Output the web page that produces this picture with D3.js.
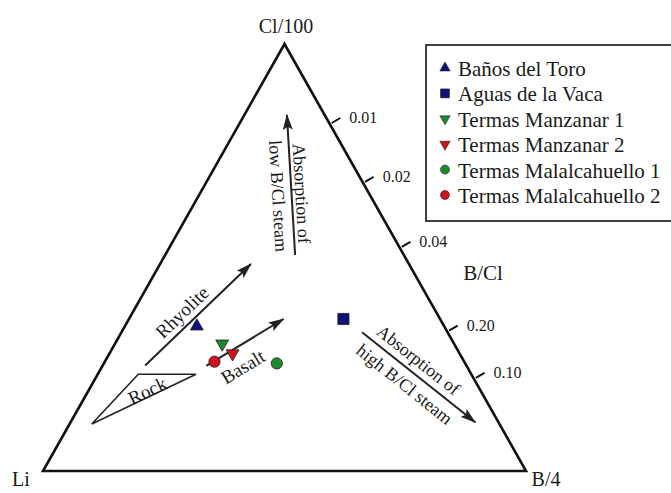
<!DOCTYPE html>
<html>
<head>
<meta charset="utf-8">
<script src="https://cdn.jsdelivr.net/npm/d3@7"></script>
<style>
  body { margin: 0; background: #fff; }
  svg { display: block; }
  text { font-family: "Liberation Serif", "Times New Roman", serif; fill: #1a1a1a; }
</style>
</head>
<body>
<svg id="chart" width="671" height="493"></svg>
<script>
// ---- Data (shares in percent of Li + B/4 + Cl/100) ----
const vertexLabels = ["Li", "B/4", "Cl/100"];
const categories = ["Baños del Toro", "Aguas de la Vaca", "Termas Manzanar 1",
                    "Termas Manzanar 2", "Termas Malalcahuello 1", "Termas Malalcahuello 2"];
const liShare = [51.2, 20.0, 48.0, 47.0, 39.0, 51.7];
const bShare  = [14.9, 44.4, 22.2, 25.5, 35.8, 22.7];
const clShare = [33.9, 35.6, 29.8, 27.5, 25.2, 25.6];

// B/Cl scale on the Cl/100 – B/4 side (B/4 share of that side, percent)
const tickLabels = ["0.01", "0.02", "0.04", "0.20", "0.10"];
const tickBShare = [18.5, 32.3, 47.5, 67.1, 78.2];

// Trend arrows and rock field, as [B/4 %, Cl/100 %]
const rhyoliteTrend = [[8.8, 24.7], [18.8, 48.5]];
const basaltTrend   = [[21.5, 24.6], [32.0, 35.6]];
const lowSteamTrend = [[26.9, 50.6], [8.8, 83.4]];
const highSteamTrend = [[49.8, 32.5], [83.8, 11.4]];
const rockField = [[4.6, 11.0], [8.4, 22.65], [20.35, 22.65]];

// ---- Styles ----
const seriesColor = ["#10127a", "#10127a", "#1d8a2c", "#d0111b", "#1d8a2c", "#d0111b"];
const seriesShape = ["triUp", "square", "triDown", "triDown", "circle", "circle"];

const svg = d3.select("#chart");
svg.append("rect").attr("width", 671).attr("height", 493).attr("fill", "#fff");

// Ternary frame: horizontal position from (B + Cl/2), vertical from Cl
const x = d3.scaleLinear().domain([0, 100]).range([43, 526]);
const y = d3.scaleLinear().domain([0, 100]).range([471, 44]);
const proj = (b, c) => [x(b + c / 2), y(c)];

// Arrowhead marker
const defs = svg.append("defs");
defs.append("marker")
  .attr("id", "head")
  .attr("viewBox", "0 0 16 10")
  .attr("refX", 15).attr("refY", 5)
  .attr("markerWidth", 16).attr("markerHeight", 10)
  .attr("markerUnits", "userSpaceOnUse")
  .attr("orient", "auto")
  .append("path").attr("d", "M0,0 L16,5 L0,10 L3,5 Z").attr("fill", "#222");

// Triangle outline
const corners = [proj(0, 0), proj(100, 0), proj(0, 100)];
svg.append("path")
  .attr("d", d3.line()(corners) + "Z")
  .attr("fill", "none").attr("stroke", "#111").attr("stroke-width", 2.6)
  .attr("stroke-linejoin", "miter");

// Vertex labels
svg.append("text").attr("x", 21).attr("y", 486).attr("text-anchor", "middle")
  .attr("font-size", 20).text(vertexLabels[0]);
svg.append("text").attr("x", 546).attr("y", 486).attr("text-anchor", "middle")
  .attr("font-size", 20).text(vertexLabels[1]);
svg.append("text").attr("x", 286).attr("y", 33).attr("text-anchor", "middle")
  .attr("font-size", 20).text(vertexLabels[2]);

// B/Cl ticks on the right side, pointing outward
const outward = [Math.cos(-Math.PI / 6), Math.sin(-Math.PI / 6)];
const tickLen = 10;
const ticks = svg.append("g");
tickBShare.forEach((b, i) => {
  const [px, py] = proj(b, 100 - b);
  const sx = px + 2.5, sy = py;
  const ex = sx + outward[0] * tickLen, ey = sy + outward[1] * tickLen;
  ticks.append("line")
    .attr("x1", sx).attr("y1", sy).attr("x2", ex).attr("y2", ey)
    .attr("stroke", "#111").attr("stroke-width", 2);
  ticks.append("text")
    .attr("x", ex + 9).attr("y", ey)
    .attr("dominant-baseline", "central")
    .attr("font-size", 16).text(tickLabels[i]);
});
svg.append("text").attr("x", 483).attr("y", 273).attr("text-anchor", "middle")
  .attr("dominant-baseline", "central").attr("font-size", 21).text("B/Cl");

// Rock field
svg.append("path")
  .attr("d", d3.line()(rockField.map(d => proj(d[0], d[1]))) + "Z")
  .attr("fill", "none").attr("stroke", "#222").attr("stroke-width", 1.6);

// Trend arrows
const arrowAngle = pts => {
  const a = proj(...pts[0]), b = proj(...pts[1]);
  return Math.atan2(b[1] - a[1], b[0] - a[0]) * 180 / Math.PI;
};
[rhyoliteTrend, basaltTrend, lowSteamTrend, highSteamTrend].forEach(t => {
  const a = proj(...t[0]), b = proj(...t[1]);
  svg.append("line")
    .attr("x1", a[0]).attr("y1", a[1]).attr("x2", b[0]).attr("y2", b[1])
    .attr("stroke", "#222").attr("stroke-width", 2)
    .attr("marker-end", "url(#head)");
});

// Annotation text placed in ternary coordinates
function label(b, c, angle, str, size) {
  const [px, py] = proj(b, c);
  svg.append("text")
    .attr("transform", `translate(${px},${py}) rotate(${angle})`)
    .attr("text-anchor", "middle").attr("dominant-baseline", "central")
    .attr("font-size", size).text(str);
}
const rockAngle = (() => {
  const a = proj(...rockField[0]), b = proj(...rockField[2]);
  return Math.atan2(b[1] - a[1], b[0] - a[0]) * 180 / Math.PI;
})();
label(10.2, 37.2, arrowAngle(rhyoliteTrend), "Rhyolite", 19);
label(29.2, 24.4, arrowAngle(basaltTrend), "Basalt", 19);
label(12.2, 18.8, rockAngle, "Rock", 19);
const lowAngle = arrowAngle(lowSteamTrend) + 180;
label(21.0, 65.0, lowAngle, "Absorption of", 18);
label(16.5, 64.4, lowAngle, "low B/Cl steam", 18);
const highAngle = arrowAngle(highSteamTrend);
label(64.7, 26.0, highAngle, "Absorption of", 18);
label(64.7, 20.3, highAngle, "high B/Cl steam", 18);

// Symbols
function symbolPath(shape, size) {
  const type = { triUp: d3.symbolTriangle, triDown: d3.symbolTriangle,
                 square: d3.symbolSquare, circle: d3.symbolCircle }[shape];
  return d3.symbol().type(type).size(size)();
}
const sizeOf = { triUp: 72, triDown: 72, square: 125, circle: 100 };
categories.forEach((name, i) => {
  const [px, py] = proj(bShare[i], clShare[i]);
  const s = seriesShape[i];
  svg.append("path")
    .attr("d", symbolPath(s, sizeOf[s]))
    .attr("transform", `translate(${px},${py})` + (s === "triDown" ? " rotate(180)" : ""))
    .attr("fill", seriesColor[i]).attr("stroke", "#222").attr("stroke-width", 0.8);
});

// Legend
const legend = svg.append("g");
legend.append("rect").attr("x", 426).attr("y", 45).attr("width", 260).attr("height", 176)
  .attr("fill", "#fff").attr("stroke", "#111").attr("stroke-width", 1.6);
const legendSize = { triUp: 46, triDown: 46, square: 80, circle: 64 };
categories.forEach((name, i) => {
  const cy = 68 + i * 25.4;
  const s = seriesShape[i];
  legend.append("path")
    .attr("d", symbolPath(s, legendSize[s]))
    .attr("transform", `translate(445,${cy})` + (s === "triDown" ? " rotate(180)" : ""))
    .attr("fill", seriesColor[i]).attr("stroke", "#222").attr("stroke-width", 0.6);
  legend.append("text").attr("x", 458).attr("y", cy + 1)
    .attr("dominant-baseline", "central").attr("font-size", 21).text(name);
});
</script>
</body>
</html>
